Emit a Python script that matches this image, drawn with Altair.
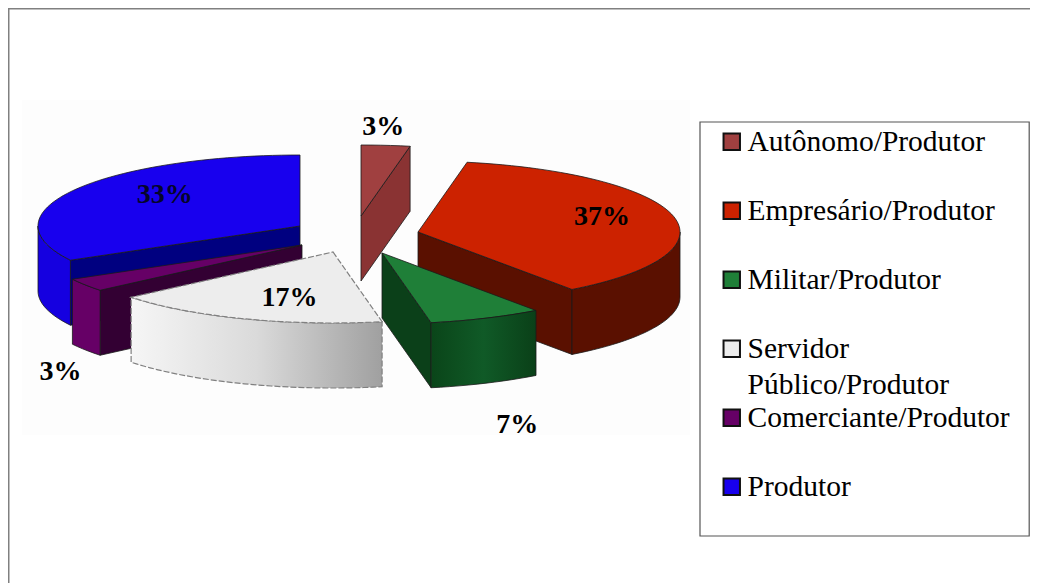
import math
import altair as alt

# ---- chart values
categories = ["Autônomo/Produtor", "Empresário/Produtor", "Militar/Produtor",
              "Servidor Público/Produtor", "Comerciante/Produtor", "Produtor"]
shares = [3, 37, 7, 17, 3, 33]

# ---- styles
top_colors = ["#A04040", "#CC2200", "#1F7F38", "#EDEDED", "#660066", "#1800EE"]
rim_colors = ["#8A3333", "#5A1000", "#0B4019", "#D0D0D0", "#660066", "#1500E0"]
radial_colors = ["#8A3333", "#5A1000", "#0B4019", "#D0D0D0", "#330033", "#000080"]

# ---- pie layout (page pixels): exploded apex of each slice, ellipse radii, depth
apex_x = [361, 418, 382, 333, 302, 300]
apex_y = [216, 232, 253, 252, 245, 226]
RX, RY, DEPTH = 262, 71, 65
# label placement relative to each slice's mid-angle direction
label_fx = [0.9, 0.72, 1.30, 0.49, 1.115, 0.6]
label_fy = [1.27, 1.03, 2.62, 0.67, 3.15, 0.89]
LABEL_DY = 1
label_color = ["#000000"] * 5 + ["#05052A"]

PAGE = 8
W, H = 1022, 575


def rim_point(i, t_deg):
    t = math.radians(t_deg)
    return (apex_x[i] + RX * math.sin(t), apex_y[i] - RY * math.cos(t))


def arc(i, a, b, step=2.0):
    n = max(2, int(abs(b - a) / step) + 1)
    return [rim_point(i, a + (b - a) * k / (n - 1)) for k in range(n)]


def feature(points, fill, name):
    ring = [list(p) for p in points] + [list(points[0])]
    return {"type": "Feature", "properties": {"fill": fill, "name": name},
            "geometry": {"type": "Polygon", "coordinates": [ring]}}


def down(points):
    return [(x, y + DEPTH) for x, y in points]


def radial_visible(i, t, mid):
    ax, ay = apex_x[i], apex_y[i]
    ex, ey = rim_point(i, t)
    mx, my = rim_point(i, mid)
    if abs(ex - ax) < 1:
        return False
    return my < ay + (ey - ay) * (mx - ax) / (ex - ax)


angles = []
acc = 0.0
for s in shares:
    angles.append((acc, acc + s * 3.6))
    acc += s * 3.6

walls, tops, rims = {}, {}, {}
for i, (a, b) in enumerate(angles):
    mid = (a + b) / 2
    apex = (apex_x[i], apex_y[i])
    w = []
    for t in (a, b):
        if radial_visible(i, t, mid):
            edge = [apex, rim_point(i, t)]
            w.append(feature(edge + down(edge)[::-1], radial_colors[i], categories[i]))
    walls[i] = w
    ra, rb = max(a, 90), min(b, 270)
    rims[i] = []
    if rb > ra:
        curve = arc(i, ra, rb)
        rims[i].append(feature(curve + down(curve)[::-1], rim_colors[i], categories[i]))
    tops[i] = feature([apex] + arc(i, a, b), top_colors[i], categories[i])

# painter's order
solid = []
for i in (0, 1, 5, 4):
    solid += walls[i] + rims[i] + [tops[i]]
solid += walls[2] + [tops[2]]

proj = dict(type="identity", scale=1, translate=[-PAGE, -PAGE])
STROKE = "#1A1A1A"


def data(feats):
    return alt.Data(values=feats)


def gradient(colors):
    n = len(colors) - 1
    return {"gradient": "linear", "x1": 0, "y1": 0, "x2": 1, "y2": 0,
            "stops": [{"offset": k / n, "color": c} for k, c in enumerate(colors)]}


layers = []

# faint off-white picture background and legend box, page frame
layers.append(alt.Chart(alt.Data(values=[{"a": 0}])).mark_rect(fill="#FDFDFD").encode(
    x=alt.value(22 - PAGE), x2=alt.value(690 - PAGE), y=alt.value(100 - PAGE), y2=alt.value(435 - PAGE)))
layers.append(alt.Chart(alt.Data(values=[{"a": 0}])).mark_rect(fill="#FFFFFF", stroke="#555555", strokeWidth=1.2).encode(
    x=alt.value(700 - PAGE), x2=alt.value(W - 0.8), y=alt.value(122 - PAGE), y2=alt.value(536 - PAGE)))
layers.append(alt.Chart(alt.Data(values=[{"a": 0}])).mark_rule(color="#808080", strokeWidth=2).encode(
    x=alt.value(0.5), y=alt.value(0), y2=alt.value(H)))
layers.append(alt.Chart(alt.Data(values=[{"a": 0}])).mark_rule(color="#808080", strokeWidth=2).encode(
    x=alt.value(0), x2=alt.value(W), y=alt.value(0.5)))

# invisible top faces that carry the legend
layers.append(alt.Chart(data([tops[i] for i in range(6)])).mark_geoshape(opacity=0).encode(
    color=alt.Color("properties.name:N",
                    scale=alt.Scale(domain=categories, range=top_colors),
                    sort=categories,
                    legend=alt.Legend(
                        title=None, orient="none", legendX=717 - PAGE, legendY=127 - PAGE,
                        symbolType="square", symbolSize=270, symbolOpacity=1,
                        symbolStrokeColor="#111111", symbolStrokeWidth=2,
                        labelFont="Liberation Serif", labelFontSize=29.5, labelColor="#000000",
                        labelLimit=400, labelOffset=1,
                        gridAlign="all", rowPadding=2.0, padding=0,
                        labelExpr="datum.label == 'Servidor Público/Produtor' ? ['Servidor', 'Público/Produtor'] : datum.label",
                    )),
).project(**proj))

# solid faces
layers.append(alt.Chart(data(solid)).mark_geoshape(stroke=STROKE, strokeWidth=0.8).encode(
    fill=alt.Fill("properties.fill:N", scale=None, legend=None)).project(**proj))

# green outer wall with its soft gradient
layers.append(alt.Chart(data(rims[2])).mark_geoshape(
    fill=gradient(["#0A4519", "#105A27", "#0A4018"]), stroke=STROKE, strokeWidth=0.8).project(**proj))

# white slice, dashed grey outline
layers.append(alt.Chart(data(rims[3])).mark_geoshape(
    fill=gradient(["#F6F6F6", "#DADADA", "#A0A0A0"]), stroke="#808080", strokeWidth=1.2,
    strokeDash=[6, 2]).project(**proj))
layers.append(alt.Chart(data([tops[3]])).mark_geoshape(
    fill=top_colors[3], stroke="#808080", strokeWidth=1.2, strokeDash=[6, 2]).project(**proj))

# percentage labels
rows = []
for i, (a, b) in enumerate(angles):
    t = math.radians((a + b) / 2)
    rows.append({
        "label": f"{shares[i]}%",
        "lon": apex_x[i] + label_fx[i] * RX * math.sin(t),
        "lat": apex_y[i] - label_fy[i] * RY * math.cos(t) + LABEL_DY,
        "c": label_color[i],
    })
layers.append(alt.Chart(alt.Data(values=rows)).mark_text(
    font="Liberation Serif", fontSize=28, fontWeight="bold", align="center", baseline="middle").encode(
    longitude=alt.Longitude("lon:Q"), latitude=alt.Latitude("lat:Q"),
    text=alt.Text("label:N"),
    color=alt.Color("c:N", scale=None, legend=None)).project(**proj))

chart = alt.layer(*layers).resolve_scale(color="independent", fill="independent").properties(
    width=W, height=H, padding=0, autosize=alt.AutoSizeParams(type="none"),
    background="#FFFFFF",
).configure_view(stroke=None).configure(style={"guide-label": {"lineHeight": 36}})

chart.save("out.html", embed_options={"renderer": "svg", "actions": False})
